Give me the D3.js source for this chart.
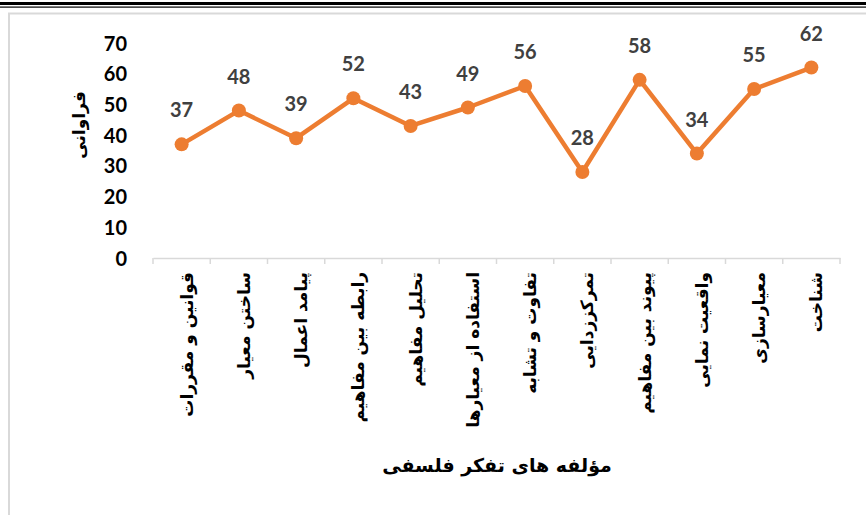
<!DOCTYPE html>
<html><head><meta charset="utf-8">
<script src="https://cdn.jsdelivr.net/npm/d3@7"></script>
<style>body{margin:0;background:#fff;}svg{display:block;}</style>
</head><body>
<script>
const categories = ["قوانین و مقررات","ساختن معیار","پیامد اعمال","رابطه بین مفاهیم","تحلیل مفاهیم","استفاده از معیارها","تفاوت و تشابه","تمرکززدایی","پیوند بین مفاهیم","واقعیت نمایی","معیارسازی","شناخت"];
const values = [37,48,39,52,43,49,56,28,58,34,55,62];
const yTicks = [0,10,20,30,40,50,60,70];
const xTitle = "مؤلفه های تفکر فلسفی";
const yTitle = "فراوانی";

const W = 866, H = 515;
const svg = d3.select("body").append("svg").attr("width", W).attr("height", H);

// top double rule
svg.append("rect").attr("x",0).attr("y",2).attr("width",W).attr("height",3).attr("fill","#000");
svg.append("rect").attr("x",0).attr("y",6.5).attr("width",W).attr("height",1.2).attr("fill","#000");
// chart frame
svg.append("rect").attr("x",9).attr("y",13.5).attr("width",W+20).attr("height",H+20)
  .attr("fill","none").attr("stroke","#d9d9d9").attr("stroke-width",2);

const x = d3.scaleBand().domain(categories).range([153, 840]);
const y = d3.scaleLinear().domain([0,70]).range([258, 43]);

// x axis
const xAxis = d3.axisBottom(x).tickSize(0).tickFormat("");
const gx = svg.append("g").attr("transform","translate(0,258)").call(xAxis);
gx.select(".domain").attr("stroke","#d9d9d9").attr("stroke-width",1.5);
// boundary ticks
const bounds = categories.map(c => x(c)).concat([x(categories[categories.length-1]) + x.bandwidth()]);
svg.append("g").selectAll("line").data(bounds).join("line")
  .attr("x1",d=>d).attr("x2",d=>d).attr("y1",258).attr("y2",264)
  .attr("stroke","#d9d9d9").attr("stroke-width",1.5);

// x labels
svg.append("g").selectAll("text").data(categories).join("text")
  .attr("transform", d => `translate(${x(d)+x.bandwidth()/2+5},272) rotate(-90)`)
  .attr("text-anchor","end").attr("dy","0.35em")
  .attr("font-family","DejaVu Sans").attr("font-weight","bold").attr("font-size",17)
  .attr("fill","#000").text(d=>d);

// y axis labels
const gy = svg.append("g").attr("transform","translate(127,0)")
  .call(d3.axisLeft(y).tickValues(yTicks).tickSize(0).tickPadding(0));
gy.select(".domain").remove();
gy.selectAll("text").attr("font-family","Lato").attr("font-weight","bold")
  .attr("font-size",20).attr("fill","#000").attr("dy","0.35em");

// titles
svg.append("text").attr("transform",`translate(79,125) rotate(-90)`)
  .attr("text-anchor","middle").attr("dy","0.35em")
  .attr("font-family","DejaVu Sans").attr("font-weight","bold").attr("font-size",17)
  .text(yTitle);
svg.append("text").attr("x",497).attr("y",465)
  .attr("text-anchor","middle").attr("dy","0.35em")
  .attr("font-family","DejaVu Sans").attr("font-weight","bold").attr("font-size",19)
  .text(xTitle);

// line
const cx = d => x(d) + x.bandwidth()/2;
const line = d3.line().x((d,i)=>cx(categories[i])).y(d=>y(d));
svg.append("path").datum(values).attr("d",line).attr("fill","none")
  .attr("stroke","#ED7D31").attr("stroke-width",4.5).attr("stroke-linejoin","round");
svg.append("g").selectAll("circle").data(values).join("circle")
  .attr("cx",(d,i)=>cx(categories[i])).attr("cy",d=>y(d)).attr("r",7)
  .attr("fill","#ED7D31");
// data labels
svg.append("g").selectAll("text").data(values).join("text")
  .attr("x",(d,i)=>cx(categories[i])).attr("y",d=>y(d)-34)
  .attr("text-anchor","middle").attr("dy","0.35em")
  .attr("font-family","Lato").attr("font-weight","bold").attr("font-size",20)
  .attr("fill","#404040").text(d=>d);
</script>
</body></html>
